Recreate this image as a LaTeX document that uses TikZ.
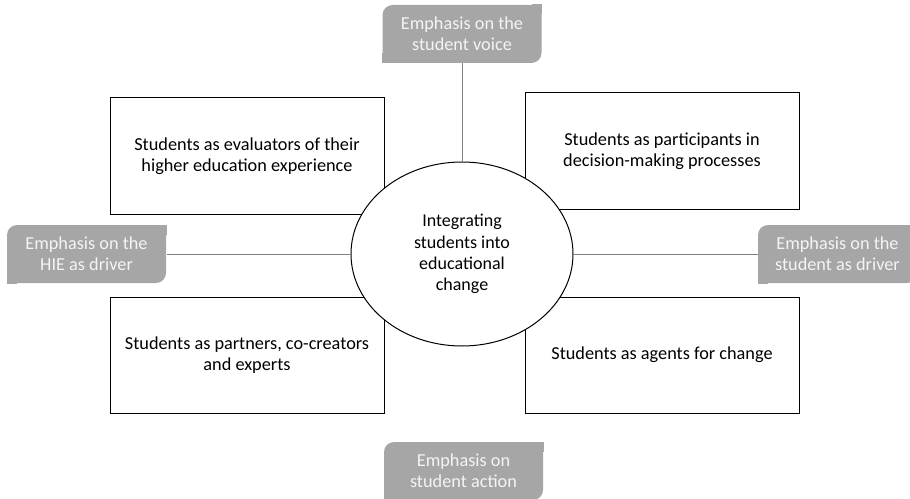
\documentclass[tikz,border=0pt]{standalone}
\usepackage{fontspec}
\setmainfont{Carlito}
\usetikzlibrary{shapes.geometric}

\definecolor{emphgray}{RGB}{166,166,166}
\definecolor{emphtext}{RGB}{244,244,244}
\definecolor{linkgray}{RGB}{128,128,128}

\tikzset{every picture/.style={line width=0.75pt}}
\tikzset{
  role/.style={draw=black, fill=white, minimum width=205.5pt, minimum height=87pt, align=center, inner sep=0pt, font=\fontsize{13.7}{15.5}\selectfont},
  emph/.style={fill=emphgray, text=emphtext, rounded corners=7.5pt, minimum width=119.25pt, minimum height=43.5pt, align=center, inner sep=0pt, font=\fontsize{13.7}{15.5}\selectfont},
  link/.style={draw=linkgray}
}

\begin{document}
\begin{tikzpicture}[x=0.75pt,y=0.75pt,yscale=-1,xscale=1]
\useasboundingbox (0,0) rectangle (910,499);

%Shape: Rectangle
\node [role] (evaluators) at (247,156) {Students as evaluators of their\\higher education experience};
%Shape: Rectangle
\node [role] (participants) at (662,151) {Students as participants in\\decision-making processes};
%Shape: Rectangle
\node [role] (partners) at (247,355) {Students as partners, co-creators\\and experts};
%Shape: Rectangle
\node [role] (agents) at (662,355) {Students as agents for change};

%Shape: Ellipse
\node [ellipse, draw=black, fill=white, minimum width=166.5pt, minimum height=138pt, inner sep=0pt, align=center, font=\fontsize{13.5}{16}\selectfont] (core) at (462,254) {Integrating\\students into\\educational\\change};

%Shape: Round Diag Corner Rectangle
\node [emph] (voice) at (462,34) {Emphasis on the\\student voice};
\node [emph] (hie) at (86.5,254) {Emphasis on the\\HIE as driver};
\node [emph] (sdriver) at (837.5,254) {Emphasis on the\\student as driver};
\node [emph] (action) at (463.5,471) {Emphasis on\\student action};
\foreach \n in {voice,hie,sdriver,action}{
  \fill [emphgray] (\n.north east) rectangle ++(-10,10);
  \fill [emphgray] (\n.south west) rectangle ++(10,-10);
}

%Straight Lines
\draw [link] (voice) -- (core);
\draw [link] (hie) -- (core);
\draw [link] (sdriver) -- (core);

\end{tikzpicture}
\end{document}
